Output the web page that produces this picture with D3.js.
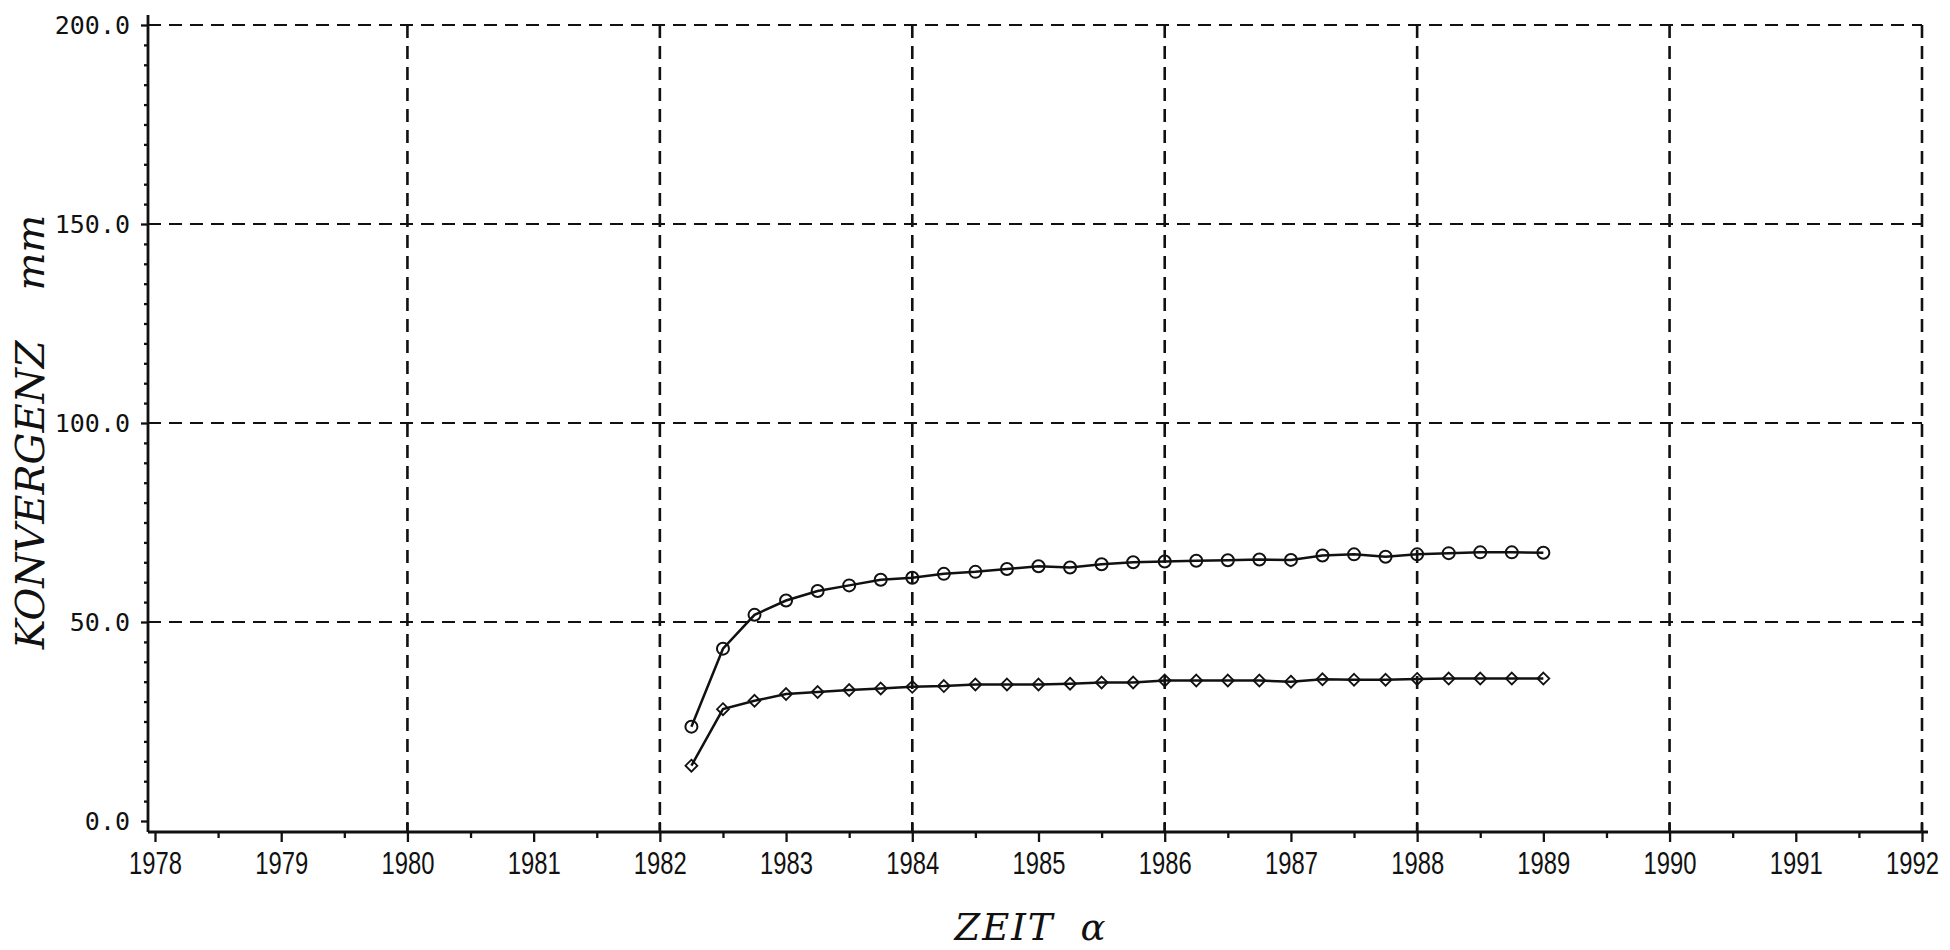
<!DOCTYPE html>
<html>
<head>
<meta charset="utf-8">
<script src="https://cdn.jsdelivr.net/npm/d3@7"></script>
<style>
  body { margin: 0; background: #fff; }
</style>
</head>
<body>
<div id="canvas"></div>
<script>
// Dimension constants.
const WIDTH = 1950;
const HEIGHT = 950;
const INK = "#111";

// Measurement dates (quarter years).
const dates = [
  1982.25, 1982.5, 1982.75, 1983, 1983.25, 1983.5, 1983.75,
  1984, 1984.25, 1984.5, 1984.75, 1985, 1985.25, 1985.5, 1985.75,
  1986, 1986.25, 1986.5, 1986.75, 1987, 1987.25, 1987.5, 1987.75,
  1988, 1988.25, 1988.5, 1988.75, 1989
];

// Convergence, circle series (mm).
const circleValues = [
  23.7, 43.3, 51.8, 55.4, 57.8, 59.2, 60.6,
  61.1, 62.1, 62.6, 63.3, 64.0, 63.7, 64.5, 65.0,
  65.2, 65.4, 65.5, 65.7, 65.6, 66.7, 67.0, 66.4,
  67.0, 67.3, 67.5, 67.5, 67.4
];

// Convergence, diamond series (mm).
const diamondValues = [
  13.9, 28.1, 30.2, 31.9, 32.4, 32.9, 33.3,
  33.7, 33.9, 34.3, 34.3, 34.3, 34.5, 34.8, 34.8,
  35.3, 35.3, 35.3, 35.3, 35.0, 35.6, 35.5, 35.5,
  35.7, 35.8, 35.8, 35.8, 35.8
];

// Tick values.
const yearTicks = [1978, 1979, 1980, 1981, 1982, 1983, 1984, 1985, 1986, 1987, 1988, 1989, 1990, 1991, 1992];
const halfYearTicks = [1978.5, 1979.5, 1980.5, 1981.5, 1982.5, 1983.5, 1984.5, 1985.5, 1986.5, 1987.5, 1988.5, 1989.5, 1990.5, 1991.5];
const gridYears = [1980, 1982, 1984, 1986, 1988, 1990, 1992];
const yTicks = [0, 50, 100, 150, 200];
const yMinorTicks = [5, 10, 15, 20, 25, 30, 35, 40, 45, 55, 60, 65, 70, 75, 80, 85, 90, 95,
  105, 110, 115, 120, 125, 130, 135, 140, 145, 155, 160, 165, 170, 175, 180, 185, 190, 195];
const gridValues = [50, 100, 150, 200];

const svg = d3.select("#canvas")
  .append("svg")
  .attr("width", WIDTH)
  .attr("height", HEIGHT);

// Scales: 1978 -> 155px, 1992 -> 1922px; 0 -> 821px, 200 -> 25px.
const xScale = d3.scaleLinear().domain([1978, 1992]).range([155, 1922]);
const yScale = d3.scaleLinear().domain([0, 200]).range([821, 25]);

const X0 = 148;           // y axis position
const Y0 = 832;           // x axis position

// Dashed grid.
const grid = svg.append("g")
  .attr("stroke", INK)
  .attr("stroke-width", 2.2)
  .attr("stroke-dasharray", "13,8");

grid.selectAll(".hgrid")
  .data(gridValues)
  .join("line")
  .attr("x1", X0)
  .attr("x2", xScale(1992))
  .attr("y1", d => yScale(d))
  .attr("y2", d => yScale(d));

grid.selectAll(".vgrid")
  .data(gridYears)
  .join("line")
  .attr("x1", d => xScale(d))
  .attr("x2", d => xScale(d))
  .attr("y1", yScale(200))
  .attr("y2", Y0)
  .attr("stroke-width", 2.6);

// X axis, yearly ticks with labels and half-year minor ticks.
const xAxisGroup = svg.append("g")
  .attr("transform", `translate(0, ${Y0})`)
  .call(d3.axisBottom(xScale)
    .tickValues(yearTicks)
    .tickFormat(d3.format("d"))
    .tickSize(10)
    .tickPadding(10));

svg.append("g")
  .attr("transform", `translate(0, ${Y0})`)
  .call(d3.axisBottom(xScale)
    .tickValues(halfYearTicks)
    .tickFormat("")
    .tickSize(6))
  .call(g => g.select(".domain").remove());

xAxisGroup.select(".domain")
  .attr("d", `M${X0},0H${xScale(1992) + 6}`);

// Year ticks that meet a grid line cross the axis.
svg.selectAll(".cross")
  .data(gridYears)
  .join("line")
  .attr("x1", d => xScale(d))
  .attr("x2", d => xScale(d))
  .attr("y1", Y0 - 10)
  .attr("y2", Y0)
  .attr("stroke", INK)
  .attr("stroke-width", 2.4);

// Y axis, major ticks with labels and minor ticks every 5 mm.
const yAxisGroup = svg.append("g")
  .attr("transform", `translate(${X0}, 0)`)
  .call(d3.axisLeft(yScale)
    .tickValues(yTicks)
    .tickFormat(d3.format(".1f"))
    .tickSize(7)
    .tickPadding(11));

svg.append("g")
  .attr("transform", `translate(${X0}, 0)`)
  .call(d3.axisLeft(yScale)
    .tickValues(yMinorTicks)
    .tickFormat("")
    .tickSize(4))
  .call(g => g.select(".domain").remove());

yAxisGroup.select(".domain")
  .attr("d", `M0,${Y0}V15`);

// Axis styling.
svg.selectAll(".domain")
  .attr("stroke", INK)
  .attr("stroke-width", 2.8);
svg.selectAll(".tick line")
  .attr("stroke", INK)
  .attr("stroke-width", 2.3);

// Narrow year labels, squeezed to the reference width.
xAxisGroup.selectAll("text")
  .attr("fill", INK)
  .attr("font-family", "'Liberation Sans', Arial, sans-serif")
  .attr("font-size", 31)
  .attr("textLength", 53)
  .attr("lengthAdjust", "spacingAndGlyphs");

// The last label sits at the page edge: nudge it inside.
xAxisGroup.selectAll(".tick text")
  .filter(d => d === 1992)
  .attr("dx", -10);

yAxisGroup.selectAll("text")
  .attr("fill", INK)
  .attr("font-family", "'DejaVu Sans Mono', monospace")
  .attr("font-size", 25);

// Lines and markers.
const line = d3.line()
  .x(d => xScale(d.date))
  .y(d => yScale(d.value));

const circleData = dates.map((d, i) => ({ date: d, value: circleValues[i] }));
const diamondData = dates.map((d, i) => ({ date: d, value: diamondValues[i] }));

[circleData, diamondData].forEach(data => {
  svg.append("path")
    .datum(data)
    .attr("d", line)
    .attr("fill", "none")
    .attr("stroke", INK)
    .attr("stroke-width", 2.5);
});

svg.selectAll(".circleMark")
  .data(circleData)
  .join("circle")
  .attr("cx", d => xScale(d.date))
  .attr("cy", d => yScale(d.value))
  .attr("r", 6)
  .attr("fill", "none")
  .attr("stroke", INK)
  .attr("stroke-width", 2);

const diamond = d3.symbol().type(d3.symbolDiamond2).size(90);
svg.selectAll(".diamondMark")
  .data(diamondData)
  .join("path")
  .attr("d", diamond)
  .attr("transform", d => `translate(${xScale(d.date)}, ${yScale(d.value)})`)
  .attr("fill", "none")
  .attr("stroke", INK)
  .attr("stroke-width", 1.8);

// Axis titles.
const yTitle = svg.append("text")
  .attr("transform", `translate(44, 432) rotate(-90)`)
  .attr("text-anchor", "middle")
  .attr("fill", INK)
  .attr("font-family", "'DejaVu Serif', 'Liberation Serif', serif")
  .attr("font-style", "italic")
  .attr("font-size", 40);
yTitle.append("tspan").text("KONVERGENZ");
yTitle.append("tspan").attr("dx", 50).text("mm");

const xTitle = svg.append("text")
  .attr("x", 1031)
  .attr("y", 940)
  .attr("text-anchor", "middle")
  .attr("fill", INK)
  .attr("font-family", "'DejaVu Serif', 'Liberation Serif', serif")
  .attr("font-style", "italic")
  .attr("font-size", 37)
  .attr("letter-spacing", 2);
xTitle.append("tspan").text("ZEIT");
xTitle.append("tspan").attr("dx", 26).text("α");
</script>
</body>
</html>
